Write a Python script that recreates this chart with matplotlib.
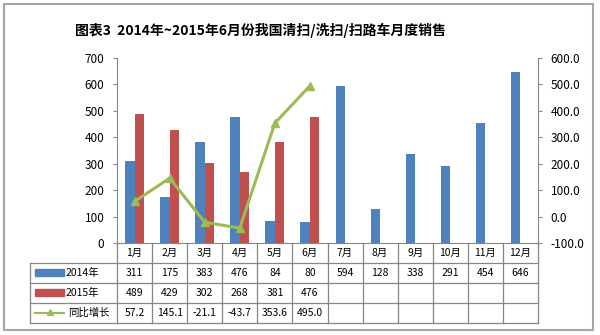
import matplotlib
matplotlib.use('Agg')
import matplotlib.pyplot as plt
import matplotlib.ticker as tck
import numpy as np
from matplotlib.patches import Rectangle

plt.rcParams['font.family'] = ['Noto Sans CJK SC', 'DejaVu Sans']

months = ['1月', '2月', '3月', '4月', '5月', '6月',
          '7月', '8月', '9月', '10月', '11月', '12月']
sales_2014 = [311, 175, 383, 476, 84, 80, 594, 128, 338, 291, 454, 646]
sales_2015 = [489, 429, 302, 268, 381, 476]
growth = [57.2, 145.1, -21.1, -43.7, 353.6, 495.0]
series_names = ['2014年', '2015年', '同比增长']
title = '图表3  2014年~2015年6月份我国清扫/洗扫/扫路车月度销售'

blue = '#4F81BD'
red = '#C0504D'
green = '#9BBB59'
grid_c = '#868686'

W, H = 600, 335
fig = plt.figure(figsize=(W / 100, H / 100), dpi=100)

# plot area in pixel units
px_l, px_r, px_t, px_b = 117, 538, 58, 243
ax = fig.add_axes([px_l / W, 1 - px_b / H, (px_r - px_l) / W, (px_b - px_t) / H])
x = np.arange(len(months))
bw = 0.27
ax.bar(x[:len(sales_2014)] - bw / 2, sales_2014, bw, color=blue)
ax.bar(x[:len(sales_2015)] + bw / 2, sales_2015, bw, color=red)
ax.set_xlim(-0.5, len(months) - 0.5)
ax.set_ylim(0, 700)
ax.yaxis.set_major_locator(tck.MultipleLocator(100))
ax.set_xticks([])
ax.tick_params(axis='y', labelsize=8.5, length=3, color=grid_c, pad=6)
for s in ['top', 'right']:
    ax.spines[s].set_visible(False)
for s in ['left', 'bottom']:
    ax.spines[s].set_color(grid_c)

ax2 = ax.twinx()
ax2.plot(x[:len(growth)], growth, color=green, lw=2.2, marker='^',
         ms=6, mfc=green, mec=green)
ax2.set_ylim(-100, 600)
ax2.yaxis.set_major_locator(tck.MultipleLocator(100))
ax2.yaxis.set_major_formatter(tck.FormatStrFormatter('%.1f'))
ax2.tick_params(axis='y', labelsize=8.5, length=3, color=grid_c, pad=6)
for s in ['top', 'left', 'bottom']:
    ax2.spines[s].set_visible(False)
ax2.spines['right'].set_color(grid_c)

# overlay in pixel coordinates for the frame, title and data table
ov = fig.add_axes([0, 0, 1, 1], zorder=-1)
ov.set_xlim(0, W)
ov.set_ylim(H, 0)
ov.axis('off')
ov.add_patch(Rectangle((4, 4), 589, 326, fill=False, ec='#A6A6A6', lw=1.5))
ov.text(260, 30, title, ha='center', va='center', fontsize=10, fontweight='bold')

tbl = fig.add_axes([0, 0, 1, 1])
tbl.set_xlim(0, W)
tbl.set_ylim(H, 0)
tbl.axis('off')
col_w = (px_r - px_l) / len(months)
rows_y = [262.5, 282.5, 302.5, 322.5]
lc = dict(color=grid_c, lw=0.9)
for y in rows_y:
    tbl.plot([30, px_r], [y, y], **lc)
tbl.plot([30, 30], [rows_y[0], rows_y[-1]], **lc)
for k in range(len(months) + 1):
    xk = px_l + col_w * k
    tbl.plot([xk, xk], [px_b, rows_y[-1]], **lc)

fs = 7.5
for i, m in enumerate(months):
    xc = px_l + col_w * (i + 0.5)
    tbl.text(xc, 253, m, ha='center', va='center', fontsize=fs)
for i, v in enumerate(sales_2014):
    tbl.text(px_l + col_w * (i + 0.5), 272.5, str(v), ha='center', va='center', fontsize=fs)
for i, v in enumerate(sales_2015):
    tbl.text(px_l + col_w * (i + 0.5), 292.5, str(v), ha='center', va='center', fontsize=fs)
for i, v in enumerate(growth):
    tbl.text(px_l + col_w * (i + 0.5), 312.5, '%.1f' % v, ha='center', va='center', fontsize=fs)

# legend keys in the row headers
tbl.add_patch(Rectangle((35, 269), 29, 7, color=blue))
tbl.add_patch(Rectangle((35, 289), 29, 7, color=red))
tbl.plot([35, 64], [312.5, 312.5], color=green, lw=1.5)
tbl.plot([49.5], [312], marker='^', ms=5, color=green)
tbl.text(66, 272.5, series_names[0], va='center', fontsize=fs)
tbl.text(66, 292.5, series_names[1], va='center', fontsize=fs)
tbl.text(68, 312.5, series_names[2], va='center', fontsize=fs)

fig.savefig('out.png', dpi=100)
